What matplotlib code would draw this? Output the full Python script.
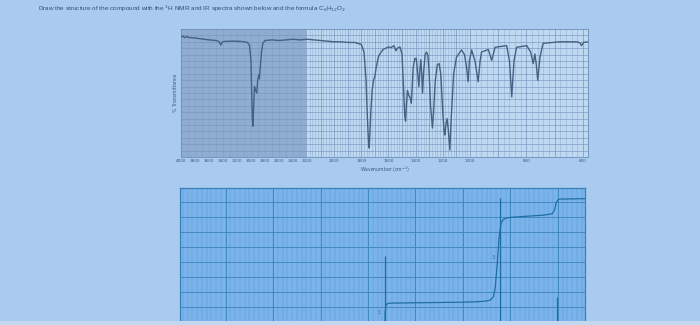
import numpy as np
import matplotlib
matplotlib.use("Agg")
import matplotlib.pyplot as plt
from matplotlib.patches import Rectangle

# ---------------- data ----------------
title_text = ("Draw the structure of the compound with the $^{1}$H NMR and IR spectra "
              "shown below and the formula C$_{6}$H$_{12}$O$_{2}$")

ir_wavenumber = [4000, 3970, 3950, 3920, 3900, 3850, 3800, 3700, 3600, 3500, 3460, 3440, 3430,
                 3415, 3400, 3300, 3200, 3100, 3050, 3020, 3000, 2990, 2980, 2972, 2965,
                 2950, 2935, 2916, 2905, 2890, 2880, 2870, 2850, 2830, 2800, 2700, 2600,
                 2500, 2400, 2300, 2200, 2100, 2000, 1950, 1900, 1850, 1800, 1780, 1765,
                 1755, 1745, 1742, 1738, 1730, 1720, 1710, 1700, 1690, 1675, 1660, 1640,
                 1620, 1600, 1580, 1560, 1545, 1535, 1515, 1500, 1490, 1480, 1474, 1468,
                 1460, 1450, 1440, 1432, 1425, 1418, 1405, 1395, 1385, 1376, 1368, 1362,
                 1355, 1349, 1342, 1330, 1320, 1310, 1300, 1290, 1276, 1268, 1255, 1240,
                 1227, 1215, 1200, 1190, 1185, 1176, 1168, 1160, 1148, 1138, 1120, 1099,
                 1080, 1062, 1040, 1025, 1013, 1004, 994, 982, 971, 964, 959, 935, 923,
                 911, 870, 860, 852, 844, 835, 799, 785, 776, 770, 765, 760, 752, 741,
                 682, 620, 610, 605, 598, 582]
ir_transmittance = [93.8, 94.5, 93.2, 94.2, 93.5, 93.2, 93.0, 92.2, 91.5, 91.0, 90.3, 88.5, 87.5,
                    89.5, 90.2, 90.5, 90.5, 90.0, 89.5, 87.0, 75.0, 50.0, 30.0, 24.0, 35.0,
                    55.0, 52.0, 50.0, 60.0, 64.0, 61.0, 68.0, 82.0, 89.0, 91.0, 91.5, 91.0,
                    91.5, 92.0, 91.5, 92.0, 91.0, 90.0, 90.0, 89.5, 89.5, 88.0, 82.0, 60.0,
                    30.0, 8.0, 7.0, 15.0, 35.0, 52.0, 60.0, 63.0, 70.0, 78.0, 81.0, 84.0,
                    85.0, 86.0, 85.5, 87.0, 83.0, 85.0, 86.0, 80.0, 55.0, 32.0, 28.0, 40.0,
                    52.0, 48.0, 46.0, 42.0, 55.0, 70.0, 77.0, 77.0, 65.0, 55.0, 68.0, 76.0,
                    65.0, 50.0, 65.0, 80.0, 82.0, 80.0, 65.0, 40.0, 22.7, 35.0, 60.0, 72.0,
                    73.0, 65.0, 35.0, 20.0, 17.2, 26.0, 30.0, 22.0, 5.5, 30.0, 65.0, 78.0,
                    81.0, 83.6, 80.0, 70.0, 58.8, 75.0, 83.6, 75.0, 58.8, 75.0, 82.0, 84.0, 75.5,
                    85.7, 87.0, 75.0, 47.0, 75.0, 85.7, 87.0, 82.0, 73.0, 80.5, 72.0, 60.0, 78.0, 88.8,
                    90.0, 90.0, 89.0, 87.0, 89.5, 90.0]
ir_tick_values = [4000, 3800, 3600, 3400, 3200, 3000, 2800, 2600, 2400, 2200,
                  2000, 1800, 1600, 1400, 1200, 1000, 800, 600]
ir_tick_labels = [str(v) for v in ir_tick_values]

nmr_peak_ppm = [3.64, 1.22, 0.02]
nmr_peak_top = [4.38, 8.25, 1.65]
nmr_int_ppm = [3.645, 3.64, 3.62, 3.58, 3.5, 3.0, 2.5, 2.0, 1.7, 1.5, 1.42, 1.36,
               1.32, 1.28, 1.24, 1.20, 1.15, 1.10, 1.0, 0.7, 0.3, 0.12, 0.07, 0.04, 0.0,
               -0.04, -0.2, -0.57]
nmr_int_val = [-1.0, 0.6, 1.12, 1.22, 1.24, 1.26, 1.28, 1.30, 1.33, 1.38, 1.45, 1.65,
               2.3, 3.8, 5.6, 6.55, 6.82, 6.90, 6.95, 7.02, 7.1, 7.2, 7.45, 7.9, 8.12,
               8.17, 8.18, 8.2]
nmr_int_labels = ["1", "3"]
nmr_label_ppm = [3.77, 1.37]
nmr_label_y = [0.58, 4.31]

# ---------------- figure ----------------
W, H = 700, 325
fig = plt.figure(figsize=(7, 3.25), dpi=100)
fig.patch.set_facecolor("#a9cbef")

fig.text(38 / W, 1 - 9 / H, title_text, fontsize=4.6, family=["Liberation Sans", "DejaVu Sans"],
         color="#2f4f7a", va="center", ha="left")

# ---------------- IR ----------------
ax = fig.add_axes([181 / W, 1 - 157 / H, 407 / W, 128 / H])
xp = [0, 600, 1000, 2200, 4000, 10000]
fp = [-169.5, 0, 113, 276, 402, 822]


def fwd(w):
    return np.interp(w, xp, fp)


def inv(p):
    return np.interp(p, fp, xp)


ax.set_xscale("function", functions=(fwd, inv))
ax.set_xlim(4000, 582)
ax.set_ylim(0, 100)
ax.set_facecolor("#bed8f2")
ax.axvspan(4000, 2200, color="#8fadd1", zorder=0, lw=0)

# grid
for w in range(2180, 582, -20):
    major = (w % 100 == 0)
    ax.axvline(w, color="#7d9cc2" if major else "#93b1d4", lw=0.55 if major else 0.4, zorder=1)
for w in range(3900, 2200, -100):
    ax.axvline(w, color="#809fc4", lw=0.4, zorder=1)
for t in range(5, 100, 5):
    ax.axhline(t, color="#7896bc", lw=0.45, zorder=1)

ax.plot(ir_wavenumber, ir_transmittance, color="#45617f", lw=1.0, zorder=3)

ax.set_xticks(ir_tick_values)
ax.set_xticklabels(ir_tick_labels)
ax.tick_params(axis="x", length=0, pad=1.5, labelsize=3.0, labelcolor="#3a5b82")
ax.set_yticks([])
for s in ax.spines.values():
    s.set_color("#6f8db3")
    s.set_linewidth(0.6)
ax.set_xlabel("Wavenumber (cm$^{-1}$)", fontsize=3.3, color="#3a5b82", labelpad=1.5)
ax.set_ylabel("% Transmittance", fontsize=3.3, color="#3a5b82", labelpad=2)

# ---------------- NMR ----------------
ax2 = fig.add_axes([180 / W, 0, 405 / W, 137 / H])
ax2.set_xlim(7.96, -0.57)
ax2.set_ylim(-0.22, 8.91)
ax2.set_facecolor("#7ab4ea")
for p in np.arange(7.9, -0.57, -0.1):
    ax2.axvline(p, color="#5d9fd6", lw=0.35, zorder=1)
for p in range(0, 8):
    ax2.axvline(p, color="#3b82bd", lw=0.6, zorder=1)
for y in range(0, 9):
    ax2.axhline(y, color="#3b82bd", lw=0.6, zorder=1)

ax2.vlines(nmr_peak_ppm, -1, nmr_peak_top, color="#1f6da6", lw=0.9, zorder=3)
ax2.plot(nmr_int_ppm, nmr_int_val, color="#1f6da6", lw=0.9, zorder=3)
for lab, px, py in zip(nmr_int_labels, nmr_label_ppm, nmr_label_y):
    ax2.text(px, py, lab, fontsize=3.5, color="#1f6da6", ha="center", va="center", zorder=4)

ax2.set_xticks([])
ax2.set_yticks([])
for name, s in ax2.spines.items():
    s.set_color("#3b7fb8")
    s.set_linewidth(0.9)
ax2.spines["bottom"].set_visible(False)

fig.add_artist(Rectangle((0, 0), 1, 4 / H, transform=fig.transFigure,
                         facecolor="#c3d8ee", edgecolor="none", zorder=10))

fig.savefig("out.png", dpi=100, facecolor=fig.get_facecolor())
